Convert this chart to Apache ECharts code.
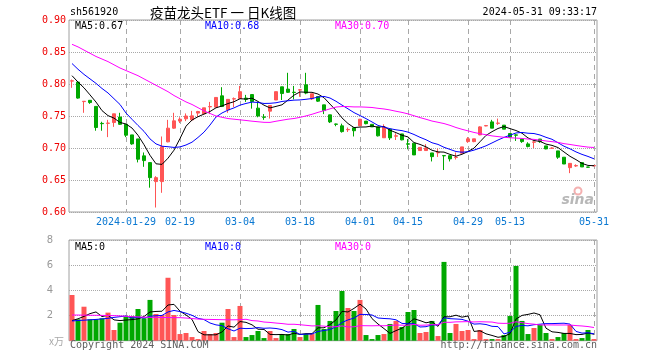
<!DOCTYPE html>
<html><head><meta charset="utf-8">
<script src="https://cdn.jsdelivr.net/npm/echarts/dist/echarts.min.js"></script>
<style>html,body{margin:0;padding:0;background:#fff}#c{width:660px;height:360px}</style>
</head><body><div id="c"></div><script>
const dates = [
'2024-01-16','2024-01-17','2024-01-18','2024-01-19','2024-01-22','2024-01-23','2024-01-24','2024-01-25','2024-01-26','2024-01-29',
'2024-01-30','2024-01-31','2024-02-01','2024-02-02','2024-02-05','2024-02-06','2024-02-07','2024-02-08','2024-02-19','2024-02-20',
'2024-02-21','2024-02-22','2024-02-23','2024-02-26','2024-02-27','2024-02-28','2024-02-29','2024-03-01','2024-03-04','2024-03-05',
'2024-03-06','2024-03-07','2024-03-08','2024-03-11','2024-03-12','2024-03-13','2024-03-14','2024-03-15','2024-03-18','2024-03-19',
'2024-03-20','2024-03-21','2024-03-22','2024-03-25','2024-03-26','2024-03-27','2024-03-28','2024-03-29','2024-04-01','2024-04-02',
'2024-04-03','2024-04-08','2024-04-09','2024-04-10','2024-04-11','2024-04-12','2024-04-15','2024-04-16','2024-04-17','2024-04-18',
'2024-04-19','2024-04-22','2024-04-23','2024-04-24','2024-04-25','2024-04-26','2024-04-29','2024-04-30','2024-05-06','2024-05-07',
'2024-05-08','2024-05-09','2024-05-10','2024-05-13','2024-05-14','2024-05-15','2024-05-16','2024-05-17','2024-05-20','2024-05-21',
'2024-05-22','2024-05-23','2024-05-24','2024-05-27','2024-05-28','2024-05-29','2024-05-30','2024-05-31'];
const labelDates = ['2024-01-29','2024-02-19','2024-03-04','2024-03-18','2024-04-01','2024-04-15','2024-04-29','2024-05-13','2024-05-31'];

const opens = [0.8045,0.803,0.7725,0.7745,0.765,0.7385,0.7385,0.7398,0.7484,0.737,
0.7205,0.7142,0.6877,0.6772,0.6475,0.6475,0.7096,0.731,0.742,0.7456,
0.744,0.7545,0.7534,0.7643,0.7638,0.7815,0.7596,0.7765,0.7773,0.778,
0.7835,0.7623,0.7485,0.7576,0.775,0.7956,0.792,0.7872,0.7905,0.7988,
0.7768,0.7804,0.7674,0.7518,0.7375,0.7346,0.7285,0.7315,0.7346,0.742,
0.737,0.733,0.716,0.7294,0.7185,0.722,0.7065,0.7075,0.696,0.696,
0.6923,0.6925,0.6882,0.688,0.6851,0.6918,0.710,0.710,0.7205,0.7345,
0.7408,0.7385,0.7357,0.7226,0.7205,0.714,0.7064,0.709,0.714,0.7033,
0.6995,0.6955,0.6856,0.6693,0.672,0.6772,0.6703,0.672];
const closes = [0.805,0.778,0.773,0.771,0.732,0.738,0.739,0.7534,0.737,0.720,
0.7064,0.6825,0.6803,0.6537,0.6537,0.702,0.731,0.7424,0.745,0.750,
0.7502,0.757,0.7628,0.7648,0.779,0.7648,0.776,0.777,0.788,0.776,
0.7726,0.750,0.748,0.7664,0.788,0.7851,0.787,0.7867,0.791,0.7858,
0.7847,0.7732,0.7585,0.7408,0.737,0.7256,0.729,0.727,0.745,0.738,
0.733,0.719,0.733,0.7158,0.719,0.7127,0.706,0.6892,0.701,0.700,
0.6865,0.693,0.6877,0.683,0.6856,0.7017,0.7143,0.7143,0.733,0.735,
0.731,0.739,0.7294,0.717,0.720,0.710,0.7022,0.7095,0.710,0.6986,
0.700,0.6856,0.675,0.676,0.6725,0.6704,0.670,0.6725];
const lows = [0.794,0.777,0.755,0.769,0.727,0.727,0.717,0.733,0.736,0.717,
0.705,0.6775,0.6706,0.638,0.607,0.630,0.709,0.730,0.739,0.742,
0.742,0.749,0.7534,0.753,0.7638,0.764,0.755,0.764,0.7773,0.772,
0.7615,0.748,0.744,0.746,0.775,0.775,0.786,0.776,0.780,0.784,
0.775,0.772,0.753,0.739,0.734,0.724,0.725,0.718,0.7346,0.737,
0.733,0.718,0.716,0.7125,0.7125,0.712,0.698,0.689,0.696,0.696,
0.679,0.686,0.6656,0.679,0.682,0.6918,0.708,0.709,0.720,0.734,
0.731,0.736,0.7294,0.716,0.711,0.708,0.701,0.700,0.708,0.698,
0.699,0.683,0.675,0.6607,0.6705,0.6704,0.6695,0.672];
const highs = [0.807,0.804,0.773,0.775,0.765,0.741,0.744,0.7534,0.755,0.737,
0.7205,0.7142,0.693,0.6772,0.656,0.718,0.744,0.755,0.748,0.754,
0.758,0.758,0.7628,0.772,0.779,0.795,0.776,0.779,0.797,0.783,
0.7835,0.772,0.753,0.7664,0.788,0.7956,0.8175,0.797,0.792,0.8175,
0.7847,0.7804,0.7674,0.7518,0.738,0.738,0.732,0.7315,0.745,0.742,
0.737,0.733,0.737,0.7294,0.723,0.722,0.714,0.7075,0.701,0.706,
0.6923,0.699,0.689,0.688,0.693,0.7017,0.717,0.7143,0.734,0.736,
0.744,0.746,0.7357,0.7226,0.7215,0.714,0.709,0.7115,0.714,0.7033,
0.701,0.6955,0.6856,0.676,0.6745,0.6772,0.6705,0.6725];
const volumes = [3.63,1.7,2.7,1.7,1.7,1.78,2.23,0.85,1.43,1.91,
1.96,2.52,1.78,3.24,2.12,2.04,5.0,2.04,0.53,0.61,
0.29,0.13,0.77,0.53,0.61,1.43,2.52,0.29,2.76,0.29,
0.45,0.77,0.21,0.77,0.21,0.53,0.53,0.93,0.29,0.53,
0.53,2.84,0.93,1.57,2.36,3.95,2.6,2.36,3.24,0.45,
0.13,0.45,0.53,1.33,1.57,1.09,2.28,2.44,0.61,0.69,
1.57,0.37,6.26,0.61,1.33,0.77,0.85,0.13,0.85,0.13,
0.13,0.13,0.45,1.96,5.94,1.57,0.53,1.01,1.25,0.61,
0.13,0.29,0.61,1.25,0.13,0.21,0.85,0.13];

const priceMa5Head = [0.813,0.803,0.794,0.783];
const priceMa10Head = [0.832,0.823,0.815,0.808,0.801,0.793,0.786,0.777,0.768];
const priceMa30Head = [0.862,0.858,0.853,0.848,0.843,0.839,0.835,0.830,0.825,0.821,
0.817,0.813,0.808,0.803,0.798,0.793,0.788,0.782,0.777,0.772,
0.768,0.763,0.758,0.754,0.750,0.748,0.746,0.745,0.744];
const volMa5Head = [1.60,1.74,1.93,2.15];
const volMa10Head = [1.57,1.60,1.63,1.66,1.69,1.73,1.78,1.85,1.91];
const volMa30Head = [2.04,2.04,2.03,2.02,2.02,2.01,2.0,1.99,1.97,1.94,
1.91,1.89,1.87,1.86,1.85,1.84,1.84,1.83,1.83,1.80,
1.76,1.72,1.70,1.69,1.68,1.67,1.66,1.66,1.67];

const priceTicks = {min:0.60, max:0.90, step:0.05};
const volTicks = {min:0, max:8, step:2};

function ma(arr, n, head){
  return arr.map((v,i)=>{
    if(i < n-1) return head[i];
    let s=0; for(let j=i-n+1;j<=i;j++) s+=arr[j];
    return +(s/n).toFixed(4);
  });
}
const RED='#ff5555', GREEN='#00a800';
const candles = dates.map((d,i)=>[opens[i],closes[i],lows[i],highs[i]]);
const volData = volumes.map((v,i)=>({value:v,itemStyle:{color: closes[i]>=opens[i]?RED:GREEN}}));
const labelSet = new Set(labelDates);
const intervalFn = (idx,val)=>labelSet.has(val);
const MONO = '"DejaVu Sans Mono", monospace';

const gridBorder = '#a0a0a0';
const chart = echarts.init(document.getElementById('c'), null, {renderer:'canvas'});
function lineS(data, color, xi, yi){
  return {type:'line', data, xAxisIndex:xi, yAxisIndex:yi, symbol:'none', smooth:false,
    lineStyle:{color, width:1}, itemStyle:{color}, z:5, silent:true, animation:false};
}
function txt(text, x, y, fill, align, font){
  return {type:'text', z:100, style:{text, x, y, fill, align:align||'left', verticalAlign:'middle', font: font||('10px '+MONO)}};
}
chart.setOption({
  animation:false,
  backgroundColor:'#fff',
  grid:[
    {left:69, width:528, top:20, height:192, show:true, borderColor:gridBorder, borderWidth:1, backgroundColor:'transparent', outerBoundsMode:'none', containLabel:false},
    {left:69, width:528, top:240, height:100.7, show:true, borderColor:gridBorder, borderWidth:1, backgroundColor:'transparent', outerBoundsMode:'none', containLabel:false}
  ],
  xAxis:[
    {type:'category', data:dates, gridIndex:0, boundaryGap:true,
     axisLine:{show:false}, axisTick:{show:false},
     axisLabel:{interval:intervalFn, color:'#0a78d2', fontFamily:MONO, fontSize:10, margin:5,
       formatter:(v)=> v===labelDates[0]? v : v.slice(5)},
     splitLine:{show:true, interval:intervalFn, alignWithLabel:true, lineStyle:{color:'#a8a8a8', type:[5,4], width:1}}},
    {type:'category', data:dates, gridIndex:1, boundaryGap:true,
     axisLine:{show:false}, axisTick:{show:false}, axisLabel:{show:false},
     splitLine:{show:true, interval:intervalFn, alignWithLabel:true, lineStyle:{color:'#a8a8a8', type:[5,4], width:1}}}
  ],
  yAxis:[
    {type:'value', gridIndex:0, min:priceTicks.min, max:priceTicks.max, interval:priceTicks.step, scale:true,
     axisLine:{show:false}, axisTick:{show:false},
     axisLabel:{color:'#ee0000', fontFamily:MONO, fontSize:10, margin:3, formatter:(v)=>v.toFixed(2)},
     splitLine:{show:true, lineStyle:{color:'#a8a8a8', type:'dotted', width:1}}},
    {type:'value', gridIndex:1, min:volTicks.min, max:volTicks.max, interval:volTicks.step,
     axisLine:{show:false}, axisTick:{show:false},
     axisLabel:{color:'#999', fontFamily:'"DejaVu Sans", sans-serif', fontSize:10, margin:16, formatter:(v)=> v===0?'':String(v)},
     splitLine:{show:true, lineStyle:{color:'#a8a8a8', type:'dotted', width:1}}}
  ],
  series:[
    {type:'candlestick', data:candles, xAxisIndex:0, yAxisIndex:0, barWidth:4, z:3,
     itemStyle:{color:RED, color0:GREEN, borderColor:RED, borderColor0:GREEN, borderWidth:1}},
    lineS(ma(closes,5,priceMa5Head),'#000000',0,0),
    lineS(ma(closes,10,priceMa10Head),'#0000ff',0,0),
    lineS(ma(closes,30,priceMa30Head),'#ff00ff',0,0),
    {type:'bar', data:volData, xAxisIndex:1, yAxisIndex:1, barWidth:5, z:3},
    lineS(ma(volumes,5,volMa5Head),'#000000',1,1),
    lineS(ma(volumes,10,volMa10Head),'#0000ff',1,1),
    lineS(ma(volumes,30,volMa30Head),'#ff00ff',1,1)
  ],
  graphic:[
    txt('sh561920', 70, 12.5, '#000'),
    txt('疫苗龙头ETF 一 日K线图', 150, 12.5, '#000', 'left', '13.5px "Noto Sans CJK SC", sans-serif'),
    txt('2024-05-31 09:33:17', 597, 12.5, '#000', 'right'),
    txt('MA5:0.67', 75, 26.5, '#000'),
    txt('MA10:0.68', 205, 26.5, '#0000ff'),
    txt('MA30:0.70', 335, 26.5, '#ff00ff'),
    txt('MA5:0', 75, 247, '#000'),
    txt('MA10:0', 205, 247, '#0000ff'),
    txt('MA30:0', 335, 247, '#ff00ff'),
    txt('x万', 64, 341, '#a8a8a8', 'right', '10px "Noto Sans CJK SC", sans-serif'),
    txt('Copyright 2024 SINA.COM', 70, 345.5, '#606060'),
    txt('http://finance.sina.com.cn', 597, 345.5, '#606060', 'right'),
    {type:'circle', z:99, shape:{cx:578, cy:191, r:3.5}, style:{fill:'none', stroke:'#f4b0b0', lineWidth:2}},
    txt('sina', 594, 200.5, '#b8b8b8', 'right', 'italic bold 14px "DejaVu Sans", sans-serif')
  ]
});
</script></body></html>
